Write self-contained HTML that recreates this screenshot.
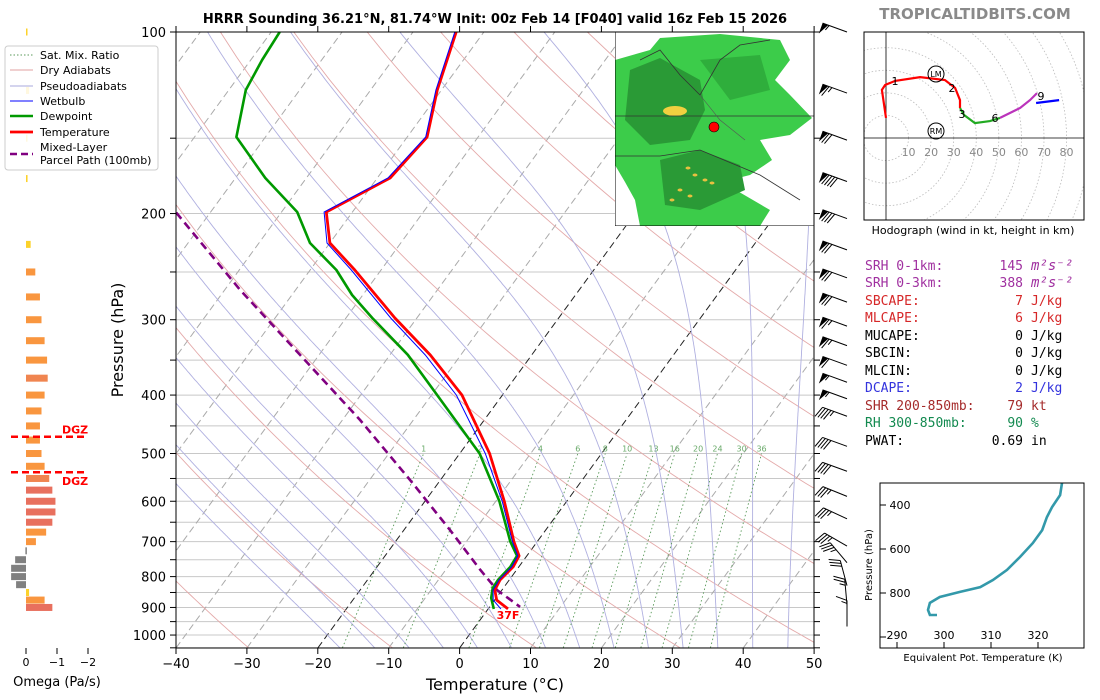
<!DOCTYPE html>
<html><head><meta charset="utf-8">
<style>
html,body{margin:0;padding:0;background:#fff;}
svg{display:block;font-family:"DejaVu Sans","Liberation Sans",sans-serif;}
</style></head>
<body>
<svg id="chart" width="1100" height="700" viewBox="0 0 1100 700" xmlns="http://www.w3.org/2000/svg">
<defs>
<clipPath id="mainClip"><rect x="176" y="32" width="638" height="616"/></clipPath>
<clipPath id="hodoClip"><rect x="864" y="32" width="220" height="188"/></clipPath>
<clipPath id="mapClip"><rect x="615" y="32" width="199" height="194"/></clipPath>
</defs>
<text x="495" y="23" text-anchor="middle" font-size="13" font-weight="bold">HRRR Sounding 36.21°N, 81.74°W Init: 00z Feb 14 [F040] valid 16z Feb 15 2026</text>
<text x="975" y="19" text-anchor="middle" font-size="15" font-weight="bold" fill="#8a8a8a">TROPICALTIDBITS.COM</text>
<g id="bg" clip-path="url(#mainClip)"></g>
<g id="series" clip-path="url(#mainClip)"></g>
<g id="map" clip-path="url(#mapClip)"></g>
<g id="axes"></g>
<g id="omega"></g>
<g id="barbs"></g>
<g id="hodo"></g>
<g id="thetae"></g>
<g id="stats"></g>
<g id="legend"></g>
</svg>
<script>
// ---- Sounding data (pressure hPa, °C) ----
const tempP = [100,124.8,149.3,174.6,198.8,223.8,248.1,298,343.3,400,500,600,700,739,771,810,842,875,905];
const tempT = [-63.9,-60.6,-57.2,-58.2,-63.7,-60,-53.7,-43.1,-34.3,-25.7,-15.8,-8.8,-3.3,-1.1,-0.8,-1.3,-1.0,0.3,2.8];
const dewP = [100,111.3,124.8,149.3,174.6,198.8,223.8,248.1,273,298,343,400,500,600,700,739,771,810,836,868,905];
const dewT = [-88.8,-88.4,-87.6,-84.1,-75.8,-67.8,-62.8,-56.3,-51.5,-46.3,-37.5,-29.2,-17.2,-9.5,-3.8,-1.4,-1.2,-1.6,-1.5,-0.7,0.8];
const wbP = [100,124.8,149.3,174.6,198.8,223.8,248.1,298,343.3,400,500,600,700,739,771,810,842,875,905];
const wbT = [-64.1,-60.8,-57.4,-58.5,-64.0,-60.4,-54.2,-43.7,-35.0,-26.5,-16.4,-9.1,-3.5,-1.3,-1.0,-1.45,-1.25,-0.2,1.8];
const parcelP = [199.3,267.8,343,440,553,669.5,780,842,898];
const parcelT = [-84.8,-67.8,-52.7,-37.5,-24.3,-13.5,-5.1,-0.7,4.3];
// omega panel
const omegaP = [100,125,150,175,225,250,275,300,325,350,375,400,425,450,475,500,525,550,575,600,625,650,675,700,725,750,775,800,825,850,875,900];
const omegaV = [-0.02,-0.1,-0.05,-0.05,-0.15,-0.3,-0.45,-0.5,-0.6,-0.68,-0.7,-0.6,-0.5,-0.45,-0.45,-0.5,-0.6,-0.75,-0.85,-0.95,-0.95,-0.85,-0.65,-0.32,0.02,0.35,0.48,0.48,0.32,-0.1,-0.6,-0.85];
const dgzP = [469,537];
// wind barbs
const barbP = [97,122,146,171,197,222,247,271,297,320,345,368,392,419,470,517,569,620,688,733,800,862,935];
const barbSpd = [55,65,70,90,80,70,70,70,65,65,60,55,55,45,40,40,35,35,35,35,30,25,15];
const barbDir = [290,290,290,290,290,290,290,290,290,290,290,290,290,290,290,290,292,295,300,320,345,355,0];
// hodograph (kt)
const hodoRedU = [0,-1.8,-0.4,4,15.1,26.1,30.6,32.8,32.8];
const hodoRedV = [8.9,21.3,23.5,25.3,27.0,25.7,22.2,16.8,13.3];
const hodoGreenU = [32.8,34.6,39.4,46.1,50.5];
const hodoGreenV = [13.3,10.2,6.6,7.5,8.9];
const hodoMagU = [50.5,59.4,63.8,66.9];
const hodoMagV = [8.9,13.3,16.8,19.9];
const hodoBlueU = [66.5,76.7];
const hodoBlueV = [15.5,16.8];
const hodoTickLabels = [10,20,30,40,50,60,70,80];
// theta-e
const thetaP = [300,355,409,455,514,573,636,695,741,773,795,818,845,877,900,900];
const thetaE = [325.1,324.7,323.0,321.9,320.9,318.9,316.2,313.4,310.4,307.7,303.4,299.1,297.0,296.6,297.0,298.5];
const thetaXTicks = [290,300,310,320];
const thetaYTicks = [400,600,800];
// axes ticks
const pLabels = [100,200,300,400,500,600,700,800,900,1000];
const tLabels = [-40,-30,-20,-10,0,10,20,30,40,50];
const mixLabels = [1,2,4,6,8,10,13,16,20,24,30,36];

const NS="http://www.w3.org/2000/svg";
function mk(parent,tag,attrs,txt){const e=document.createElementNS(NS,tag);for(const k in attrs)e.setAttribute(k,attrs[k]);if(txt!==undefined)e.textContent=txt;document.getElementById(parent)?document.getElementById(parent).appendChild(e):parent.appendChild(e);return e;}
function yP(p){return 32+261.9*Math.log(p/100);}
function xT(T,p){return 176+(T+40)*7.09+(648-yP(p))*0.73;}
function pathFrom(ps,ts){return ps.map((p,i)=>(i?'L':'M')+xT(ts[i],p).toFixed(1)+','+yP(p).toFixed(1)).join('');}

// ---- background lines ----
const bg=document.getElementById('bg');
for(let p=100;p<=1050;p+=50){const l=mk(bg,'line',{x1:176,x2:814,y1:yP(p),y2:yP(p),stroke:'#c8c8c8','stroke-width':1});

}
for(let T=-130;T<=50;T+=10){const c=(T===0||T===-20)?'#222':'#aaa';const l=mk(bg,'line',{x1:xT(T,1050),y1:yP(1050),x2:xT(T,100),y2:yP(100),stroke:c,'stroke-width':1,'stroke-dasharray':'7,4'});

}
for(let th=240;th<=500;th+=20){let d='';for(let p=1050;p>=100;p-=10){const T=th*Math.pow(p/1000,0.286)-273.15;d+=(d?'L':'M')+xT(T,p).toFixed(1)+','+yP(p).toFixed(1);}
const l=mk(bg,'path',{d:d,fill:'none',stroke:'#e4aaaa','stroke-width':0.9});

}
function es(T){return 6.112*Math.exp(17.67*T/(T+243.5));}
function moistLine(T0){const pts=[];let T=T0;for(let p=1000;p>=100;p-=2){pts.push([p,T]);const Tk=T+273.15;const rs=0.622*es(T)/(p-es(T));const dTdp=(287*Tk+2.5e6*rs)/(p*(1004+2.5e6*2.5e6*rs*0.622/(287*Tk*Tk)));T-=dTdp*2;}
let T2=T0;const lo=[];for(let p=1000;p<=1050;p+=2){lo.push([p,T2]);const Tk=T2+273.15;const rs=0.622*es(T2)/(p-es(T2));const dTdp=(287*Tk+2.5e6*rs)/(p*(1004+2.5e6*2.5e6*rs*0.622/(287*Tk*Tk)));T2+=dTdp*2;}
return lo.reverse().concat(pts);}
for(let T0=-20;T0<=45;T0+=5){const pts=moistLine(T0);const d=pts.map((q,i)=>(i?'L':'M')+xT(q[1],q[0]).toFixed(1)+','+yP(q[0]).toFixed(1)).join('');
const l=mk(bg,'path',{d:d,fill:'none',stroke:'#b0b0e0','stroke-width':0.9});

}
function tdW(w,p){const e=w*p/(622+w);const a=Math.log(e/6.112);return 243.5*a/(17.67-a);}
mixLabels.forEach(w=>{const l=mk(bg,'line',{x1:xT(tdW(w,1050),1050),y1:yP(1050),x2:xT(tdW(w,500),500),y2:yP(500),stroke:'#5a9a5a','stroke-width':0.9,'stroke-dasharray':'1.5,2.5'});


const t=mk(bg,'text',{x:xT(tdW(w,500),500),y:yP(500)-2,'font-size':8,'text-anchor':'middle',fill:'#6aaa6a'},String(w));

});

// ---- series ----
const se=document.getElementById('series');
let s=mk(se,'path',{d:pathFrom(parcelP,parcelT),fill:'none',stroke:'#800080','stroke-width':2.6,'stroke-dasharray':'8,5'});


s=mk(se,'path',{d:pathFrom(dewP,dewT),fill:'none',stroke:'#009900','stroke-width':2.6,'stroke-linejoin':'round'});


s=mk(se,'path',{d:pathFrom(tempP,tempT),fill:'none',stroke:'#ff0000','stroke-width':2.8,'stroke-linejoin':'round'});


s=mk(se,'path',{d:pathFrom(wbP,wbT),fill:'none',stroke:'#0000ff','stroke-width':1});


s=mk(se,'text',{x:xT(tempT[tempT.length-1],905),y:yP(905)+10,'font-size':11,'font-weight':'bold','text-anchor':'middle',fill:'#ff0000'},'37F');



// ---- map inset ----
const mp=document.getElementById('map');
mk(mp,'rect',{x:615,y:32,width:199,height:194,fill:'#fff'});
mk(mp,'polygon',{points:'615,60 650,50 660,38 720,34 780,40 790,60 775,80 790,95 812,118 790,135 760,140 772,160 750,175 722,182 770,210 760,226 640,226 635,200 625,182 615,165',fill:'#3ccc4a'});
mk(mp,'polygon',{points:'630,70 660,58 700,80 705,110 690,140 650,145 625,120',fill:'#2a9a36'});
mk(mp,'polygon',{points:'660,160 700,150 740,165 745,190 700,210 665,205',fill:'#2a9a36'});
mk(mp,'polygon',{points:'700,60 760,55 770,90 730,100',fill:'#2fae3c'});
mk(mp,'ellipse',{cx:675,cy:111,rx:12,ry:5,fill:'#f0d040'});
[[688,168],[695,175],[705,180],[712,183],[680,190],[690,196],[672,200]].forEach(q=>mk(mp,'ellipse',{cx:q[0],cy:q[1],rx:2.5,ry:1.5,fill:'#e8c040'}));
mk(mp,'polyline',{points:'615,116 814,116',stroke:'#333',fill:'none','stroke-width':0.8});
mk(mp,'polyline',{points:'615,156 660,156 700,150 760,175 800,200',stroke:'#333',fill:'none','stroke-width':0.8});
mk(mp,'polyline',{points:'640,60 660,50 680,75 700,95 720,60 740,45 770,40',stroke:'#333',fill:'none','stroke-width':0.8});
mk(mp,'polyline',{points:'700,95 720,120 745,140',stroke:'#555',fill:'none','stroke-width':0.6});
mk(mp,'rect',{x:615,y:32,width:199,height:194,fill:'none',stroke:'#000','stroke-width':1});
s=mk(mp,'circle',{cx:714,cy:127,r:5,fill:'#ff0000',stroke:'#000','stroke-width':0.6});



// ---- axes ----
const ax=document.getElementById('axes');
s=mk(ax,'rect',{x:176,y:32,width:638,height:616,fill:'none',stroke:'#000','stroke-width':1});


for(let p=100;p<=1050;p+=50){mk(ax,'line',{x1:170,x2:176,y1:yP(p),y2:yP(p),stroke:'#000'});mk(ax,'line',{x1:814,x2:820,y1:yP(p),y2:yP(p),stroke:'#000'});}
pLabels.forEach(p=>{const t=mk(ax,'text',{x:166,y:yP(p)+5,'font-size':13,'text-anchor':'end'},String(p));

});
tLabels.forEach(T=>{const x=176+(T+40)*7.09;mk(ax,'line',{x1:x,x2:x,y1:648,y2:654,stroke:'#000'});mk(ax,'line',{x1:x,x2:x,y1:26,y2:32,stroke:'#000'});
const t=mk(ax,'text',{x:x,y:668,'font-size':13,'text-anchor':'middle'},(T<0?'\u2212'+(-T):String(T)));

});
s=mk(ax,'text',{x:495,y:690,'font-size':16,'text-anchor':'middle'},'Temperature (°C)');


s=mk(ax,'text',{x:123,y:340,'font-size':16,'text-anchor':'middle',transform:'rotate(-90 123 340)'},'Pressure (hPa)');



// ---- omega panel ----
const om=document.getElementById('omega');
function xO(v){return 26-v*31;}
omegaP.forEach((p,i)=>{const v=omegaV[i];const a=Math.abs(v);let c=v>0?'#808080':(a<0.3?'#fcd22a':(a<0.8?'#f9963f':'#e8705e'));if(v<0&&a>=0.7&&a<0.8)c='#f08550';
const x0=Math.min(xO(0),xO(v)),w=Math.abs(xO(v)-xO(0));
const r=mk(om,'rect',{x:x0,y:yP(p)-3.5,width:Math.max(w,1.5),height:7,fill:c});

});
dgzP.forEach((p,i)=>{const l=mk(om,'line',{x1:11,x2:87,y1:yP(p),y2:yP(p),stroke:'#ff0000','stroke-width':2.5,'stroke-dasharray':'7,4'});


const t=mk(om,'text',{x:62,y:i===0?yP(p)-3:yP(p)+13,'font-size':11,'font-weight':'bold',fill:'#ff0000'},'DGZ');

});
[0,-1,-2].forEach(v=>{mk(om,'line',{x1:xO(v),x2:xO(v),y1:648,y2:654,stroke:'#000'});
const t=mk(om,'text',{x:xO(v),y:666,'font-size':11,'text-anchor':'middle'},v===0?'0':'\u2212'+(-v));

});
s=mk(om,'text',{x:57,y:686,'font-size':13,'text-anchor':'middle'},'Omega (Pa/s)');



// ---- wind barbs ----
const bb=document.getElementById('barbs');
barbP.forEach((p,i)=>{const g=mk(bb,'g',{});


const y0=p<100?yP(100)-9:yP(p);const bx=847,by=y0+9;const d=barbDir[i]*Math.PI/180;
const ux=Math.sin(d),uy=-Math.cos(d);const L=26;const tx=bx+ux*L,ty=by+uy*L;
mk(g,'line',{x1:bx,y1:by,x2:tx,y2:ty,stroke:'#000','stroke-width':1});
const px=-uy,py=ux;const nx=-px,ny=-py;
let spd=Math.round(barbSpd[i]/5)*5;let pos=0;
while(spd>=50){const ax1=tx-ux*pos,ay1=ty-uy*pos,ax2=tx-ux*(pos+6),ay2=ty-uy*(pos+6);
mk(g,'polygon',{points:`${ax1},${ay1} ${ax1+nx*11},${ay1+ny*11} ${ax2},${ay2}`,fill:'#000'});pos+=7;spd-=50;}
while(spd>=10){const ax1=tx-ux*pos,ay1=ty-uy*pos;mk(g,'line',{x1:ax1,y1:ay1,x2:ax1+nx*11+ux*4,y2:ay1+ny*11+uy*4,stroke:'#000','stroke-width':1});pos+=3;spd-=10;}
if(spd>=5){if(pos===0)pos=3;const ax1=tx-ux*pos,ay1=ty-uy*pos;mk(g,'line',{x1:ax1,y1:ay1,x2:ax1+nx*5.5+ux*2,y2:ay1+ny*5.5+uy*2,stroke:'#000','stroke-width':1});}
});

// ---- hodograph ----
const ho=document.getElementById('hodo');
const hx=u=>886+u*2.257, hy=v=>138-v*2.257;
const hc=mk(ho,'g',{'clip-path':'url(#hodoClip)'});
for(let r=10;r<=120;r+=10){mk(hc,'circle',{cx:886,cy:138,r:r*2.257,fill:'none',stroke:'#bbb','stroke-width':0.8,'stroke-dasharray':'1.5,2'});}
mk(hc,'line',{x1:886,x2:886,y1:32,y2:220,stroke:'#000','stroke-width':0.8});
mk(hc,'line',{x1:864,x2:1084,y1:138,y2:138,stroke:'#000','stroke-width':0.8});
hodoTickLabels.forEach(k=>{const t=mk(ho,'text',{x:hx(k),y:156,'font-size':11,'text-anchor':'middle',fill:'#888'},String(k));

});
[[hodoRedU,hodoRedV,'#ff0000','hodo-0-3km'],[hodoGreenU,hodoGreenV,'#22aa22','hodo-3-6km'],[hodoMagU,hodoMagV,'#bb33bb','hodo-6-9km'],[hodoBlueU,hodoBlueV,'#0000ff','hodo-9km-plus']].forEach(a=>{
const d=a[0].map((u,i)=>(i?'L':'M')+hx(u).toFixed(1)+','+hy(a[1][i]).toFixed(1)).join('');
const l=mk(ho,'path',{d:d,fill:'none',stroke:a[2],'stroke-width':2.2});

});
[['1',895,85],['2',952,92],['3',962,118],['6',995,122],['9',1041,100]].forEach(q=>{const t=mk(ho,'text',{x:q[1],y:q[2],'font-size':11,'text-anchor':'middle'},q[0]);

});
[['LM',936,74],['RM',936,131]].forEach(q=>{mk(ho,'circle',{cx:q[1],cy:q[2],r:8,fill:'none',stroke:'#000','stroke-width':1});
const t=mk(ho,'text',{x:q[1],y:q[2]+3,'font-size':8,'text-anchor':'middle'},q[0]);

});
s=mk(ho,'rect',{x:864,y:32,width:220,height:188,fill:'none',stroke:'#000','stroke-width':1});


s=mk(ho,'text',{x:973,y:234,'font-size':11,'text-anchor':'middle'},'Hodograph (wind in kt, height in km)');



// ---- theta-e panel ----
const te=document.getElementById('thetae');
const tx2=t=>897+(t-290)*4.7, ty2=p=>505+(p-400)*0.22;
const td=thetaE.map((t,i)=>(i?'L':'M')+tx2(t).toFixed(1)+','+ty2(thetaP[i]).toFixed(1)).join('');
s=mk(te,'path',{d:td,fill:'none',stroke:'#3399aa','stroke-width':2.6});


mk(te,'rect',{x:880,y:483,width:204,height:165,fill:'none',stroke:'#000','stroke-width':1});
thetaYTicks.forEach(p=>{mk(te,'line',{x1:880,x2:886,y1:ty2(p),y2:ty2(p),stroke:'#000'});
const t=mk(te,'text',{x:900,y:ty2(p)+4,'font-size':11,'text-anchor':'middle'},String(p));

});
mk(te,'line',{x1:880,x2:886,y1:ty2(1000),y2:ty2(1000),stroke:'#000'});
thetaXTicks.forEach(k=>{mk(te,'line',{x1:tx2(k),x2:tx2(k),y1:642,y2:648,stroke:'#000'});
const t=mk(te,'text',{x:tx2(k),y:639,'font-size':11,'text-anchor':'middle'},String(k));

});
s=mk(te,'text',{x:983,y:661,'font-size':10,'text-anchor':'middle'},'Equivalent Pot. Temperature (K)');


s=mk(te,'text',{x:872,y:565,'font-size':10,'text-anchor':'middle',transform:'rotate(-90 872 565)'},'Pressure (hPa)');



// ---- stats ----
const st=document.getElementById('stats');
const rows=[['SRH 0-1km:','145','m²s⁻²','#a030a0'],['SRH 0-3km:','388','m²s⁻²','#a030a0'],['SBCAPE:','7','J/kg','#d62728'],['MLCAPE:','6','J/kg','#d62728'],['MUCAPE:','0','J/kg','#000'],['SBCIN:','0','J/kg','#000'],['MLCIN:','0','J/kg','#000'],['DCAPE:','2','J/kg','#3333dd'],['SHR 200-850mb:','79','kt','#a52a2a'],['RH 300-850mb:','90','%','#138a50'],['PWAT:','0.69','in','#000']];
const ys=[270,287,305,322,340,357,375,392,410,427,445];
rows.forEach((r,i)=>{const g=mk(st,'g',{'font-family':'"DejaVu Sans Mono","Liberation Mono",monospace','font-size':13,fill:r[3]});


mk(g,'text',{x:865,y:ys[i]},r[0]);mk(g,'text',{x:1023,y:ys[i],'text-anchor':'end'},r[1]);
mk(g,'text',{x:1031,y:ys[i],'font-style':i<2?'italic':'normal','font-size':i<2?14:13},r[2]);});

// ---- legend ----
const lg=document.getElementById('legend');
s=mk(lg,'rect',{x:5,y:46,width:153,height:124,rx:3,fill:'#fff','fill-opacity':0.85,stroke:'#ccc'});


const items=[['Sat. Mix. Ratio','#5a9a5a',1,'1.5,2'],['Dry Adiabats','#e0a0a0',1,''],['Pseudoadiabats','#a8a8dc',1,''],['Wetbulb','#0000ff',1,''],['Dewpoint','#009900',2.6,''],['Temperature','#ff0000',2.8,'']];
const iy=[55,70,86,101,116,132];
items.forEach((it,i)=>{const g=mk(lg,'g',{});


mk(g,'line',{x1:10,x2:33,y1:iy[i],y2:iy[i],stroke:it[1],'stroke-width':it[2],'stroke-dasharray':it[3]});
mk(g,'text',{x:40,y:iy[i]+4,'font-size':11},it[0]);});
const pg=mk(lg,'g',{});


mk(pg,'line',{x1:10,x2:33,y1:154,y2:154,stroke:'#800080','stroke-width':2.6,'stroke-dasharray':'7,4'});
mk(pg,'text',{x:40,y:151,'font-size':11},'Mixed-Layer');
mk(pg,'text',{x:40,y:164,'font-size':11},'Parcel Path (100mb)');
</script>
</body></html>
